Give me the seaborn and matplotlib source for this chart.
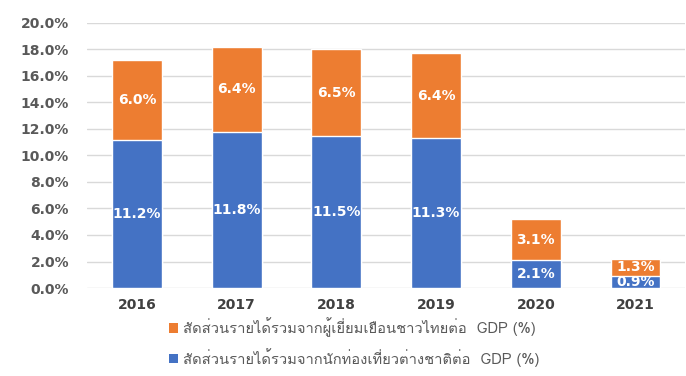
import numpy as np
import pandas as pd
import matplotlib
matplotlib.use("Agg")
import matplotlib.pyplot as plt
from matplotlib import font_manager
from matplotlib.ft2font import FT2Font
from matplotlib.patches import Patch
import seaborn as sns

years = ["2016", "2017", "2018", "2019", "2020", "2021"]
foreign_share = [11.2, 11.8, 11.5, 11.3, 2.1, 0.9]
thai_share = [6.0, 6.4, 6.5, 6.4, 3.1, 1.3]
yticks = [0, 2, 4, 6, 8, 10, 12, 14, 16, 18, 20]
thai_label = "สัดส่วนรายได้รวมจากผู้เยี่ยมเยือนชาวไทยต่อ  GDP (%)"
foreign_label = "สัดส่วนรายได้รวมจากนักท่องเที่ยวต่างชาติต่อ  GDP (%)"

BLUE = "#4472C4"
ORANGE = "#ED7D31"

sns.set_theme(style="white")

# pick an installed family that covers Thai script
thai_fams = []
for f in font_manager.fontManager.ttflist:
    try:
        cmap = FT2Font(f.fname).get_charmap()
    except Exception:
        continue
    if 0x0E2A in cmap and f.name not in thai_fams:
        thai_fams.append(f.name)
legend_family = thai_fams[:1] + ["DejaVu Sans"]
plt.rcParams["font.family"] = ["DejaVu Sans"]

df = pd.DataFrame({"year": years, "foreign": foreign_share, "thai": thai_share})
df["total"] = df["foreign"] + df["thai"]

fig = plt.figure(figsize=(6.86, 3.76), dpi=100)
ax = fig.add_axes([0.127, 0.234, 0.872, 0.705])

sns.barplot(data=df, x="year", y="total", order=years, color=ORANGE,
            saturation=1, width=0.5, ax=ax)
sns.barplot(data=df, x="year", y="foreign", order=years, color=BLUE,
            saturation=1, width=0.5, ax=ax)

for i, (b, t) in enumerate(zip(foreign_share, thai_share)):
    ax.text(i, b / 2, f"{b:.1f}%", ha="center", va="center", color="white",
            fontsize=10, fontweight="bold")
    ax.text(i, b + t / 2, f"{t:.1f}%", ha="center", va="center", color="white",
            fontsize=10, fontweight="bold")

ax.set_ylim(0, 20)
ax.set_xlim(-0.5, 5.5)
ax.set_yticks(yticks)
ax.set_yticklabels([f"{v:.1f}%" for v in yticks], fontsize=10,
                   fontweight="bold", color="#595959")
ax.set_xticks(range(len(years)))
ax.set_xticklabels(years, fontsize=10, fontweight="bold", color="#404040")
ax.set_xlabel("")
ax.set_ylabel("")
ax.tick_params(axis="y", length=0, pad=13)
ax.tick_params(axis="x", length=0, pad=7)
ax.grid(axis="y", color="#D9D9D9", linewidth=1)
ax.set_axisbelow(True)
for s in ax.spines.values():
    s.set_visible(False)

handles = [Patch(facecolor=ORANGE, edgecolor="none"),
           Patch(facecolor=BLUE, edgecolor="none")]
fig.legend(handles, [thai_label, foreign_label], loc="upper left",
           bbox_to_anchor=(0.232, 0.184), frameon=False, handlelength=0.6,
           handleheight=0.6, handletextpad=0.35, labelspacing=0.75,
           borderpad=0.2,
           prop={"family": legend_family, "size": 10.6}, labelcolor="#595959")

fig.savefig("out.png", dpi=100)
